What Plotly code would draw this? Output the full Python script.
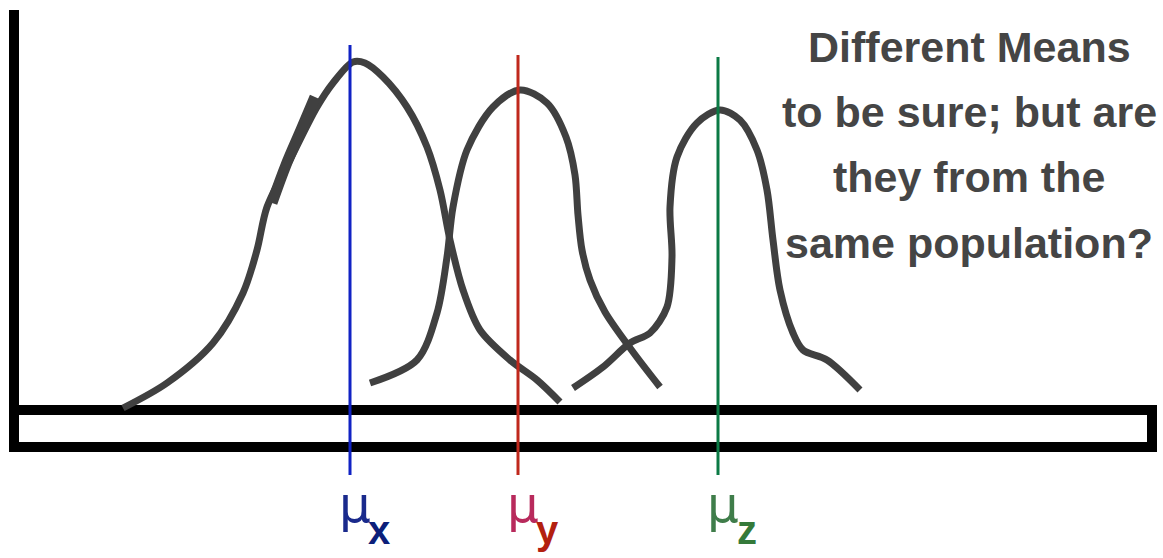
import plotly.graph_objects as go

W, H = 1163, 558

# Curve X (left distribution), coordinates in drawing units (x right, y down)
curve_x_x = [123, 167, 213, 243, 257, 267, 290, 317, 333, 353, 365, 383, 407, 427, 440, 450, 463, 480, 510, 537, 560]
curve_x_y = [408, 383, 343, 293, 250, 207, 160, 107, 83, 62, 63, 77, 107, 147, 190, 240, 290, 330, 360, 380, 402]
# extra pen stroke on the left flank
stroke_x = [315, 301, 286, 272]
stroke_y = [97, 130, 165, 203]

curve_y_x = [370, 417, 437, 447, 453, 467, 493, 520, 547, 566, 575, 578, 582, 590, 605, 633, 660]
curve_y_y = [383, 360, 313, 257, 207, 150, 107, 90, 103, 137, 175, 215, 250, 280, 312, 352, 387]

curve_z_x = [573, 603, 630, 650, 667, 672, 670, 677, 697, 720, 740, 757, 767, 773, 780, 793, 803, 827, 860]
curve_z_y = [388, 367, 343, 333, 307, 257, 207, 157, 123, 110, 120, 150, 190, 240, 290, 333, 350, 360, 390]

# Means
mean_x = [350, 518, 718]
mean_top = [45, 55, 57]
mean_bottom = 475
mean_colors = ["#1022c4", "#c0281c", "#0b7a45"]
mu_subs = ["x", "y", "z"]
mu_colors = ["#1a2a8c", "#b82a5c", "#3f7d4a"]
sub_colors = ["#0c1f7a", "#b3200f", "#357a3a"]

# Frame (axis + bar)
frame_x = [14, 14, 1152, 1152, 14]
frame_y = [10, 447, 447, 410, 410]

text_lines = ["Different Means", "to be sure; but are", "they from the", "same population?"]
text_y = [47, 112, 177, 243]

fig = go.Figure()
fig.add_trace(go.Scatter(x=frame_x, y=frame_y, mode="lines",
                         line=dict(color="black", width=10), hoverinfo="skip"))
for cx, cy in [(curve_x_x, curve_x_y), (curve_y_x, curve_y_y), (curve_z_x, curve_z_y)]:
    fig.add_trace(go.Scatter(x=cx, y=cy, mode="lines",
                             line=dict(color="#404040", width=7, shape="spline", smoothing=0.9),
                             hoverinfo="skip"))
fig.add_trace(go.Scatter(x=stroke_x, y=stroke_y, mode="lines",
                         line=dict(color="#404040", width=11, shape="spline"), hoverinfo="skip"))
for mx, mt, c in zip(mean_x, mean_top, mean_colors):
    fig.add_trace(go.Scatter(x=[mx, mx], y=[mt, mean_bottom], mode="lines",
                             line=dict(color=c, width=3), hoverinfo="skip"))

annotations = []
for t, ty in zip(text_lines, text_y):
    annotations.append(dict(x=969, y=ty, text="<b>" + t + "</b>", showarrow=False, xref="x", yref="y",
                            xanchor="center", yanchor="middle",
                            font=dict(family="Liberation Sans", size=43, color="#454545")))
for mx, s, mc, sc in zip(mean_x, mu_subs, mu_colors, sub_colors):
    annotations.append(dict(x=mx + 5, y=505, text="μ", showarrow=False, xref="x", yref="y",
                            xanchor="center", yanchor="middle",
                            font=dict(family="DejaVu Sans", size=50, color=mc)))
    annotations.append(dict(x=mx + 29, y=530, text="<b>" + s + "</b>", showarrow=False,
                            xref="x", yref="y", xanchor="center", yanchor="middle",
                            font=dict(family="Liberation Sans", size=40, color=sc)))

fig.update_layout(
    width=W, height=H, margin=dict(l=0, r=0, t=0, b=0),
    paper_bgcolor="white", plot_bgcolor="white", showlegend=False,
    xaxis=dict(range=[0, W], visible=False, fixedrange=True),
    yaxis=dict(range=[H, 0], visible=False, fixedrange=True),
    annotations=annotations,
)
fig.write_html("out.html", config={"displayModeBar": False},
               post_script="document.body.style.margin='0';")
